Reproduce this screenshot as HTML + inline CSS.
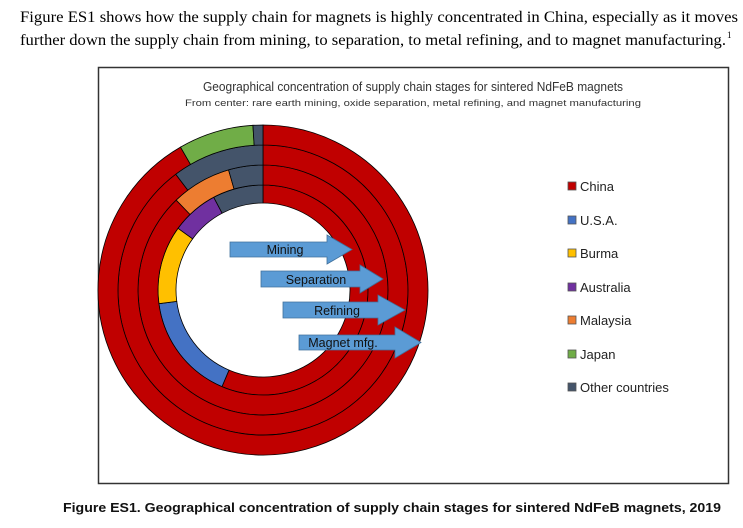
<!DOCTYPE html>
<html><head><meta charset="utf-8"><style>
html,body{margin:0;padding:0;background:#fff;}
svg{display:block;}
</style></head><body>
<svg width="743" height="528" viewBox="0 0 743 528" xmlns="http://www.w3.org/2000/svg">
<text x="20" y="22" font-family="Liberation Serif, serif" font-size="15.5" textLength="718" lengthAdjust="spacingAndGlyphs">Figure  ES1 shows how the supply chain for magnets is highly concentrated in China, especially as it moves</text>
<text x="20" y="45" font-family="Liberation Serif, serif" font-size="15.5" textLength="706" lengthAdjust="spacingAndGlyphs">further down the supply chain from mining, to separation, to metal refining, and to magnet manufacturing.</text>
<text x="727" y="38" font-family="Liberation Serif, serif" font-size="9">1</text>
<rect x="98.5" y="67.5" width="630" height="416" fill="#fff" stroke="#333" stroke-width="1.5"/>
<text x="413" y="91" text-anchor="middle" font-family="Liberation Sans, sans-serif" font-size="13" fill="#333" textLength="420" lengthAdjust="spacingAndGlyphs">Geographical concentration of supply chain stages for sintered NdFeB magnets</text>
<text x="413" y="106" text-anchor="middle" font-family="Liberation Sans, sans-serif" font-size="9.5" fill="#333" textLength="456" lengthAdjust="spacingAndGlyphs">From center: rare earth mining, oxide separation, metal refining, and magnet manufacturing</text>
<g id="donut" stroke="#000" stroke-width="0.8"></g>
<g font-family="Liberation Sans, sans-serif" font-size="13" fill="#222">
<g stroke="#555" stroke-width="0.8">
<rect x="568" y="182" width="8" height="8" fill="#C00000"/>
<rect x="568" y="216" width="8" height="8" fill="#4472C4"/>
<rect x="568" y="249" width="8" height="8" fill="#FFC000"/>
<rect x="568" y="283" width="8" height="8" fill="#7030A0"/>
<rect x="568" y="316" width="8" height="8" fill="#ED7D31"/>
<rect x="568" y="350" width="8" height="8" fill="#70AD47"/>
<rect x="568" y="383" width="8" height="8" fill="#44546A"/>
</g>
<text x="580" y="191">China</text>
<text x="580" y="225">U.S.A.</text>
<text x="580" y="258">Burma</text>
<text x="580" y="292">Australia</text>
<text x="580" y="325">Malaysia</text>
<text x="580" y="359">Japan</text>
<text x="580" y="392">Other countries</text>
</g>
<g fill="#5B9BD5" stroke="#41719C" stroke-width="0.8" font-family="Liberation Sans, sans-serif" font-size="12.5">
<polygon points="230,242 327,242 327,235 352,249.5 327,264 327,257 230,257"/>
<polygon points="261,271 360,271 360,265 383,279 360,293 360,287 261,287"/>
<polygon points="283,302 378,302 378,295 405,310 378,325 378,318 283,318"/>
<polygon points="299,335 395,335 395,327 421,342.5 395,358 395,350 299,350"/>
</g>
<g font-family="Liberation Sans, sans-serif" font-size="12.5" fill="#111" text-anchor="middle">
<text x="285" y="254">Mining</text>
<text x="316" y="284">Separation</text>
<text x="337" y="315">Refining</text>
<text x="343" y="347">Magnet mfg.</text>
</g>
<text x="392" y="512" text-anchor="middle" font-family="Liberation Sans, sans-serif" font-weight="bold" font-size="12.5" fill="#111" textLength="658" lengthAdjust="spacingAndGlyphs">Figure ES1. Geographical concentration of supply chain stages for sintered NdFeB magnets, 2019</text>
<script>
(function(){
var cx=263,cy=290,g=document.getElementById('donut');
var C={cn:'#C00000',us:'#4472C4',bu:'#FFC000',au:'#7030A0',ma:'#ED7D31',ja:'#70AD47',ot:'#44546A'};
var rings=[
[87,105,[['cn',0,203],['us',203,262.5],['bu',262.5,306],['au',306,332],['ot',332,360]]],
[105,125,[['cn',0,316],['ma',316,344],['ot',344,360]]],
[125,145,[['cn',0,323],['ot',323,360]]],
[145,165,[['cn',0,330],['ja',330,356.5],['ot',356.5,360]]]];
function pt(r,a){a=a*Math.PI/180;return [cx+r*Math.sin(a),cy-r*Math.cos(a)];}
rings.forEach(function(rg){
var r0=rg[0],r1=rg[1];
rg[2].forEach(function(s){
var a0=s[1],a1=s[2],large=(a1-a0)>180?1:0;
var p1=pt(r1,a0),p2=pt(r1,a1),p3=pt(r0,a1),p4=pt(r0,a0);
var d='M'+p1+' A'+r1+' '+r1+' 0 '+large+' 1 '+p2+' L'+p3+' A'+r0+' '+r0+' 0 '+large+' 0 '+p4+' Z';
var e=document.createElementNS('http://www.w3.org/2000/svg','path');
e.setAttribute('d',d.replace(/,/g,' '));e.setAttribute('fill',C[s[0]]);g.appendChild(e);
});
});
})();
</script>
</svg>
</body></html>
